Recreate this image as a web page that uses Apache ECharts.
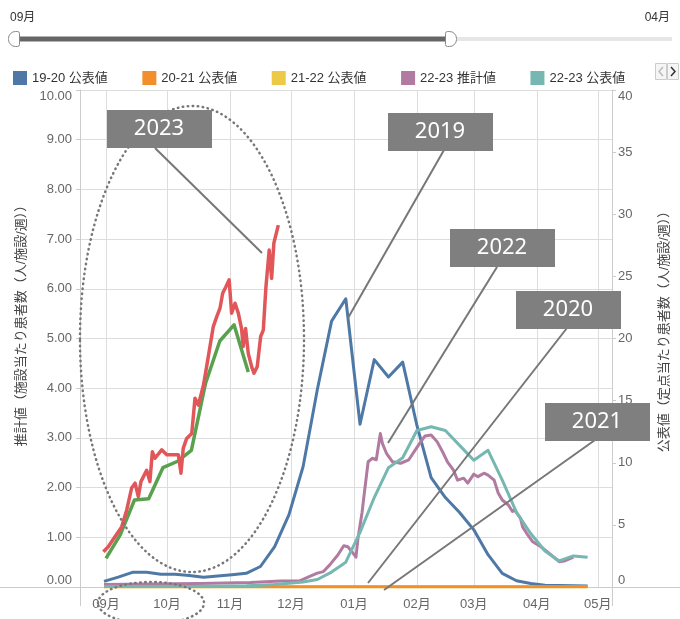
<!DOCTYPE html>
<html>
<head>
<meta charset="utf-8">
<title>インフルエンザ 推計値・公表値</title>
<script src="https://cdn.jsdelivr.net/npm/echarts@6/dist/echarts.min.js"></script>
<style>
    html, body { margin: 0; padding: 0; background: #fff; }
    #chart { width: 680px; height: 619px; }
</style>
</head>
<body>
<div id="chart"></div>
<script>
    // day offsets counted from 09/01 (the common season axis)
    var weekDays = [-1, 6, 13, 20, 27, 34, 41, 48, 55, 62, 69, 76, 83, 90, 97, 104, 111, 118,
        125, 132, 139, 146, 153, 160, 167, 174, 181, 188, 195, 202, 209, 216, 223, 230, 237]

    // 公表値 (定点当たり, right axis)
    var kouhyou1920 = [0.45, 0.8, 1.18, 1.18, 1.02, 1.02, 0.92, 0.78, 0.88, 0.98, 1.1, 1.65, 3.25, 5.8,
        9.7, 15.9, 21.4, 23.2, 13.1, 18.3, 16.9, 18.1, 13.0, 8.8, 7.2, 6.0, 4.6, 2.6, 1.1, 0.5,
        0.28, 0.15, 0.12, 0.1, 0.08]
    var kouhyou2021 = [0.02, 0.02, 0.02, 0.02, 0.02, 0.02, 0.02, 0.02, 0.02, 0.02, 0.02, 0.02, 0.02, 0.02,
        0.02, 0.02, 0.02, 0.02, 0.02, 0.02, 0.02, 0.02, 0.02, 0.02, 0.02, 0.02, 0.02, 0.02, 0.02,
        0.02, 0.02, 0.02, 0.02, 0.02, 0.02]
    var kouhyou2122 = [0.01, 0.01, 0.01, 0.01, 0.01, 0.01, 0.01, 0.01, 0.01, 0.01, 0.01, 0.01, 0.01, 0.01,
        0.01, 0.01, 0.01, 0.01, 0.01, 0.01, 0.01, 0.01, 0.01, 0.01, 0.01, 0.01, 0.01, 0.01, 0.01,
        0.01, 0.01, 0.01, 0.01, 0.01, 0.01]
    var kouhyou2223 = [0.05, 0.05, 0.05, 0.05, 0.05, 0.05, 0.05, 0.06, 0.07, 0.08, 0.1, 0.15, 0.2, 0.3,
        0.4, 0.6, 1.2, 2.0, 4.4, 7.2, 9.6, 10.4, 12.6, 12.9, 12.6, 11.4, 10.2, 11.0, 8.6, 6.0,
        4.3, 2.9, 2.1, 2.5, 2.4]

    // 推計値 (施設当たり, left axis)
    var suikeiDays2223 = [-1, 22, 46, 71, 86, 95, 100, 104, 107, 110, 112, 114, 117, 119, 121, 123, 124,
        126, 127, 129, 131, 133, 135, 136, 138, 141, 145, 149, 154, 157, 160, 163, 166, 168, 171,
        173, 176, 178, 181, 183, 186, 188, 191, 193, 195, 198, 200, 201, 204, 205, 207, 210, 214,
        218, 223, 226, 230]
    var suikei2223 = [0.05, 0.06, 0.07, 0.09, 0.12, 0.12, 0.21, 0.28, 0.31, 0.44, 0.54, 0.64, 0.83, 0.81,
        0.71, 0.6, 0.98, 1.5, 1.85, 2.52, 2.59, 2.56, 3.09, 2.89, 2.69, 2.52, 2.49, 2.56, 2.87,
        3.04, 3.06, 2.92, 2.69, 2.52, 2.35, 2.15, 2.19, 2.09, 2.27, 2.22, 2.29, 2.25, 2.15, 1.89,
        1.75, 1.65, 1.52, 1.55, 1.38, 1.21, 1.08, 0.91, 0.81, 0.68, 0.51, 0.53, 0.6]

    // 2023 (overlay)
    var suikeiDays2324 = [-1.3, 1.1, 4.4, 7.7, 10.2, 12.6, 14.3, 15.9, 17.2, 20.0, 21.6, 22.8, 24.1, 27.4,
        29.9, 33.1, 35.6, 36.9, 38.0, 39.7, 42.2, 43.8, 45.4, 47.9, 49.5, 52.8, 54.5, 56.1, 57.4,
        59.0, 60.6, 61.8, 63.5, 65.1, 66.7, 67.5, 68.7, 70.0, 71.7, 72.8, 74.4, 76.1, 77.4, 78.7,
        80.3, 81.5, 82.6, 84.8]
    var suikei2324 = [0.71, 0.81, 1.01, 1.21, 1.55, 1.99, 2.09, 1.82, 2.12, 2.35, 2.12, 2.72, 2.59, 2.76,
        2.66, 2.66, 2.66, 2.29, 2.79, 2.99, 3.09, 3.8, 3.66, 4.05, 4.43, 5.24, 5.44, 5.61, 5.91,
        6.04, 6.18, 5.51, 5.71, 5.51, 5.2, 4.84, 5.2, 4.7, 4.43, 4.3, 4.43, 5.04, 5.17, 6.04,
        6.78, 6.21, 6.92, 7.28]
    var kouhyouDays2324 = [0, 7, 14, 21, 28, 35, 42, 49, 56, 63, 70]
    var kouhyou2324 = [2.3, 4.2, 7.0, 7.1, 9.6, 10.1, 11.0, 16.4, 19.8, 21.1, 17.3]

    var leftTicks = {min: 0, max: 10, interval: 1}
    var rightTicks = {min: 0, max: 40, interval: 5}

    var DAY = 86400000
    var base = new Date(2022, 8, 1).getTime()

    function pairs(days, values) {
        return days.map(function (d, i) {
            return [base + d * DAY, values[i]]
        })
    }

    var font = "'Liberation Sans', 'Noto Sans CJK JP', sans-serif"

    function lineSeries(name, color, yIndex, data, width) {
        return {
            name: name,
            type: 'line',
            yAxisIndex: yIndex,
            showSymbol: false,
            symbol: 'none',
            color: color,
            lineStyle: {color: color, width: width || 3, join: 'round'},
            data: data
        }
    }

    var chart = echarts.init(document.getElementById('chart'), null, {renderer: 'canvas'})

    var annotations = [
        // [text, box x, box y, line from, line to]
        ['2023', 107, 110, [155, 148], [262, 253]],
        ['2019', 388, 113, [444, 150], [348, 318]],
        ['2022', 450, 229, [497, 267], [388, 443]],
        ['2020', 516, 291, [567, 328], [368, 583]],
        ['2021', 545, 403, [595, 440], [384, 590]]
    ]
    var graphics = []
    annotations.forEach(function (a) {
        graphics.push({
            type: 'line', z: 100,
            shape: {x1: a[3][0], y1: a[3][1], x2: a[4][0], y2: a[4][1]},
            style: {stroke: '#777', lineWidth: 2}
        })
    })
    annotations.forEach(function (a) {
        graphics.push({
            type: 'rect', z: 101,
            shape: {x: a[1], y: a[2], width: 105, height: 38},
            style: {fill: '#7f7f7f'}
        })
        graphics.push({
            type: 'text', z: 102,
            x: a[1] + 52, y: a[2] + 19,
            style: {
                text: a[0], fill: '#fff', fontSize: 22, fontFamily: "'Noto Sans', sans-serif",
                align: 'center', verticalAlign: 'middle', textAlign: 'center', textVerticalAlign: 'middle'
            }
        })
    })
    // dotted circles
    graphics.push({
        type: 'ellipse', z: 99,
        shape: {cx: 192, cy: 339, rx: 112, ry: 233},
        style: {fill: null, stroke: '#777', lineWidth: 2.5, lineDash: [0.5, 4.5], lineCap: 'round'}
    })
    graphics.push({
        type: 'ellipse', z: 99,
        shape: {cx: 151, cy: 603, rx: 53, ry: 21},
        style: {fill: null, stroke: '#777', lineWidth: 2.5, lineDash: [0.5, 4.5], lineCap: 'round'}
    })
    // range slider
    graphics.push(
        {type: 'text', z: 50, x: 10, y: 12, style: {text: '09月', fontSize: 12, fill: '#333', fontFamily: font}},
        {type: 'text', z: 50, x: 670, y: 12, style: {text: '04月', fontSize: 12, fill: '#333', fontFamily: font, align: 'right', textAlign: 'right'}},
        {type: 'rect', z: 50, shape: {x: 14, y: 37, width: 658, height: 4}, style: {fill: '#e6e6e6'}},
        {type: 'rect', z: 51, shape: {x: 14, y: 36.5, width: 436, height: 5}, style: {fill: '#666'}},
        {type: 'rect', z: 52, shape: {x: 8.5, y: 31.5, width: 11, height: 15, r: [7, 2, 2, 7]}, style: {fill: '#fff', stroke: '#888', lineWidth: 1}},
        {type: 'rect', z: 52, shape: {x: 445.5, y: 31.5, width: 11, height: 15, r: [2, 7, 7, 2]}, style: {fill: '#fff', stroke: '#888', lineWidth: 1}}
    )
    // legend pager
    graphics.push(
        {type: 'rect', z: 50, shape: {x: 655.5, y: 63.5, width: 11, height: 16}, style: {fill: '#f5f5f5', stroke: '#ccc', lineWidth: 1}},
        {type: 'rect', z: 50, shape: {x: 667.5, y: 63.5, width: 11, height: 16}, style: {fill: '#f5f5f5', stroke: '#ccc', lineWidth: 1}},
        {type: 'polyline', z: 51, shape: {points: [[663, 67], [659, 71.5], [663, 76]]}, style: {stroke: '#bbb', lineWidth: 1.5, fill: null}},
        {type: 'polyline', z: 51, shape: {points: [[671, 67], [675, 71.5], [671, 76]]}, style: {stroke: '#333', lineWidth: 1.5, fill: null}}
    )
    // frame lines around the plot
    graphics.push(
        {type: 'line', z: 1, shape: {x1: 0, y1: 587.5, x2: 680, y2: 587.5}, style: {stroke: '#ccc', lineWidth: 1}},
        {type: 'line', z: 1, shape: {x1: 80.5, y1: 587, x2: 80.5, y2: 606}, style: {stroke: '#ccc', lineWidth: 1}},
        {type: 'line', z: 1, shape: {x1: 612.5, y1: 587, x2: 612.5, y2: 606}, style: {stroke: '#ccc', lineWidth: 1}}
    )

    chart.setOption({
        animation: false,
        textStyle: {fontFamily: font},
        legend: {
            left: 8,
            top: 66,
            icon: 'rect',
            itemWidth: 14,
            itemHeight: 14,
            itemGap: 34.5,
            textStyle: {fontSize: 13, color: '#333', fontFamily: font},
            data: ['19-20 公表値', '20-21 公表値', '21-22 公表値', '22-23 推計値', '22-23 公表値']
        },
        grid: {left: 80, right: 68, top: 90, bottom: 32},
        xAxis: {
            type: 'time',
            min: base - 12.8 * DAY,
            max: base + 249 * DAY,
            splitNumber: 9,
            axisLine: {lineStyle: {color: '#ccc'}},
            axisTick: {show: false},
            splitLine: {show: true, lineStyle: {color: '#ddd'}},
            axisLabel: {formatter: '{MM}月', color: '#666', fontSize: 13, margin: 11, fontFamily: font}
        },
        yAxis: [
            {
                type: 'value',
                min: leftTicks.min, max: leftTicks.max, interval: leftTicks.interval,
                name: '推計値（施設当たり患者数（人/施設/週））',
                nameLocation: 'middle',
                nameRotate: 90,
                nameGap: 52,
                nameTextStyle: {fontSize: 13, color: '#444', fontFamily: font, padding: [0, 0, 0, 32]},
                axisLine: {show: true, lineStyle: {color: '#ccc'}},
                axisTick: {show: true, length: 4, lineStyle: {color: '#ccc'}},
                splitLine: {lineStyle: {color: '#ddd'}},
                axisLabel: {
                    color: '#666', fontSize: 13, margin: 8, fontFamily: font,
                    verticalAlignMaxLabel: 'top', verticalAlignMinLabel: 'bottom',
                    formatter: function (v) { return v.toFixed(2) }
                }
            },
            {
                type: 'value',
                position: 'right',
                min: rightTicks.min, max: rightTicks.max, interval: rightTicks.interval,
                name: '公表値（定点当たり患者数（人/施設/週））',
                nameLocation: 'middle',
                nameRotate: 90,
                nameGap: 46,
                nameTextStyle: {fontSize: 13, color: '#444', fontFamily: font, padding: [0, 0, 0, 20]},
                axisLine: {show: true, lineStyle: {color: '#ccc'}},
                axisTick: {show: true, length: 4, lineStyle: {color: '#ccc'}},
                splitLine: {show: false},
                axisLabel: {
                    color: '#666', fontSize: 13, margin: 6, fontFamily: font,
                    verticalAlignMaxLabel: 'top', verticalAlignMinLabel: 'bottom'
                }
            }
        ],
        series: [
            lineSeries('19-20 公表値', '#4e79a7', 1, pairs(weekDays, kouhyou1920)),
            lineSeries('21-22 公表値', '#edc948', 1, pairs(weekDays, kouhyou2122)),
            lineSeries('20-21 公表値', '#f28e2b', 1, pairs(weekDays, kouhyou2021)),
            lineSeries('22-23 推計値', '#b07aa1', 0, pairs(suikeiDays2223, suikei2223)),
            lineSeries('22-23 公表値', '#76b7b2', 1, pairs(weekDays, kouhyou2223)),
            lineSeries('23-24 公表値', '#59a14f', 1, pairs(kouhyouDays2324, kouhyou2324), 3.5),
            lineSeries('23-24 推計値', '#e15759', 0, pairs(suikeiDays2324, suikei2324), 3.5)
        ],
        graphic: {elements: graphics}
    })
</script>
</body>
</html>
